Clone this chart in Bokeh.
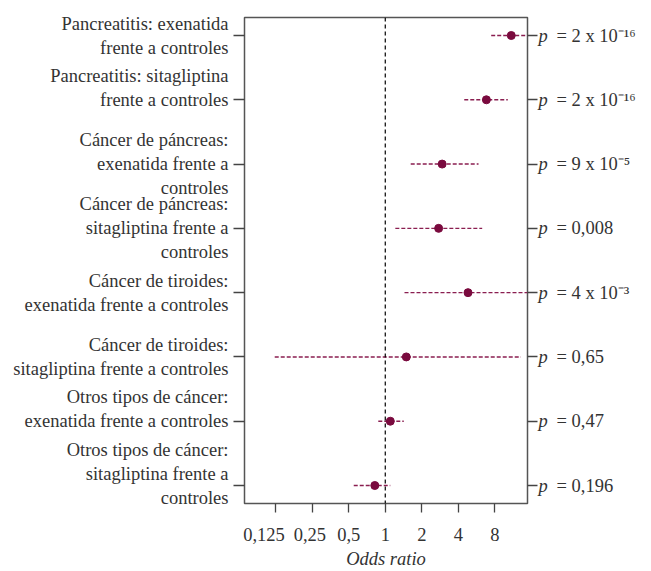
from bokeh.plotting import figure
from bokeh.models import Range1d, FixedTicker, LinearAxis, Span, ColumnDataSource
from bokeh.embed import file_html
from bokeh.resources import INLINE

NB = "\u00a0"
categories = [
    "Pancreatitis: exenatida\nfrente a controles",
    "Pancreatitis: sitagliptina\nfrente a controles\n" + NB,
    "Cáncer de páncreas:\nexenatida frente a\ncontroles",
    "Cáncer de páncreas:\nsitagliptina frente a\ncontroles",
    "Cáncer de tiroides:\nexenatida frente a controles",
    "Cáncer de tiroides:\nsitagliptina frente a controles",
    "Otros tipos de cáncer:\nexenatida frente a controles\n" + NB,
    "Otros tipos de cáncer:\nsitagliptina frente a\ncontroles\n" + NB,
]
odds_ratio = [10.9, 6.8, 2.94, 2.75, 4.8, 1.49, 1.1, 0.82]
ci_low = [7.45, 4.47, 1.62, 1.21, 1.44, 0.123, 0.876, 0.55]
ci_high = [16.0, 10.2, 5.86, 6.28, 16.0, 13.1, 1.42, 1.1]
p_values = ["= 2 x 10⁻¹⁶", "= 2 x 10⁻¹⁶", "= 9 x 10⁻⁵", "= 0,008",
            "= 4 x 10⁻³", "= 0,65", "= 0,47", "= 0,196"]
x_ticks = [0.125, 0.25, 0.5, 1, 2, 4, 8]
x_tick_labels = ["0,125" + NB * 5, "0,25" + NB, "0,5", "1", "2", "4", "8"]

rows = list(range(1, len(categories) + 1))
FONT = "Liberation Serif"
TXT = "#333333"
MAROON = "#7a0a3e"

x_lo, x_hi = 2 ** -3.85, 2 ** 3.89
p = figure(width=651, height=571, x_axis_type="log",
           x_range=Range1d(x_lo, x_hi), y_range=Range1d(8.28, 0.72),
           output_backend="svg", toolbar_location=None,
           min_border_left=244, min_border_right=124,
           min_border_top=17, min_border_bottom=65)
p.grid.visible = False
p.outline_line_color = "#555555"
p.outline_line_width = 1.5
p.background_fill_color = "white"

# x axis
xa = p.xaxis[0]
xa.ticker = FixedTicker(ticks=x_ticks)
xa.major_label_overrides = {t: l for t, l in zip(x_ticks, x_tick_labels)}
xa.axis_line_color = None
xa.major_tick_in = 0
xa.major_tick_out = 9
xa.minor_tick_line_color = None
xa.major_tick_line_color = "#444444"
xa.major_tick_line_width = 1.3
xa.major_label_text_font = FONT
xa.major_label_text_font_size = "18.5px"
xa.major_label_text_color = TXT
xa.major_label_standoff = 12
xa.axis_label = "Odds ratio"
xa.axis_label_text_font = FONT
xa.axis_label_text_font_style = "italic"
xa.axis_label_text_font_size = "18.5px"
xa.axis_label_text_color = TXT
xa.axis_label_standoff = 1

# left axis
ya = p.yaxis[0]
ya.ticker = FixedTicker(ticks=rows)
ya.major_label_overrides = {r: c for r, c in zip(rows, categories)}
ya.axis_line_color = None
ya.major_tick_in = 0
ya.major_tick_out = 11
ya.minor_tick_line_color = None
ya.major_tick_line_color = "#444444"
ya.major_tick_line_width = 1.3
ya.major_label_text_font = FONT
ya.major_label_text_font_size = "18.5px"
ya.major_label_text_color = TXT
ya.major_label_standoff = 5

# right axes: italic "p", then the value text
ra = LinearAxis(ticker=FixedTicker(ticks=rows))
ra.major_label_overrides = {r: "p" for r in rows}
ra.axis_line_color = None
ra.major_tick_in = 0
ra.major_tick_out = 10
ra.minor_tick_line_color = None
ra.major_tick_line_color = "#444444"
ra.major_tick_line_width = 1.3
ra.major_label_standoff = 1
ra.major_label_text_font = FONT
ra.major_label_text_font_style = "italic"
ra.major_label_text_font_size = "18.5px"
ra.major_label_text_color = TXT
p.add_layout(ra, "right")

ra2 = LinearAxis(ticker=FixedTicker(ticks=rows))
ra2.major_label_overrides = {r: v for r, v in zip(rows, p_values)}
ra2.axis_line_color = None
ra2.major_tick_in = 0
ra2.major_tick_out = 0
ra2.minor_tick_line_color = None
ra2.major_tick_line_color = None
ra2.major_label_standoff = 6
ra2.major_label_text_font = FONT
ra2.major_label_text_font_size = "18.5px"
ra2.major_label_text_color = TXT
p.add_layout(ra2, "right")

p.add_layout(Span(location=1, dimension="height", line_color="black",
                  line_dash="4 3", line_width=1.2))

src = ColumnDataSource(dict(y=rows, orr=odds_ratio, lo=ci_low, hi=ci_high))
p.segment(x0="lo", x1="hi", y0="y", y1="y", source=src,
          line_color="#8a1e50", line_width=1.4, line_dash="4 2")
p.scatter(x="orr", y="y", source=src, size=8, fill_color=MAROON, line_color=MAROON)

open("out.html", "w").write(file_html(p, INLINE))
